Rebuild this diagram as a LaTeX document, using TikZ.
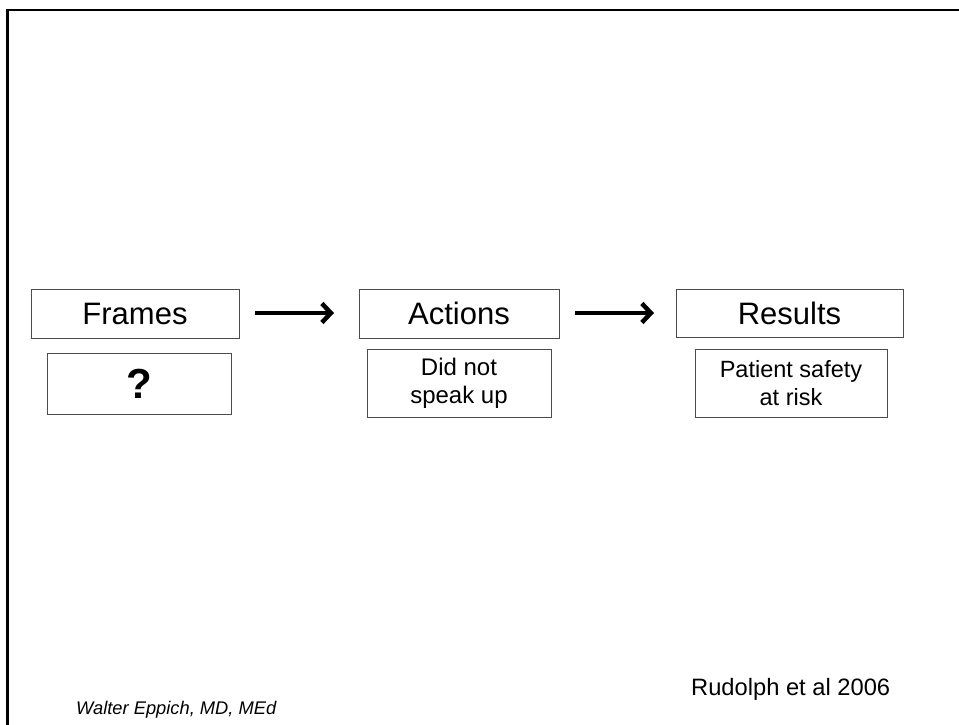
\documentclass[tikz,border=0pt]{standalone}
\usepackage{fontspec}
\setmainfont{Liberation Sans}
\usetikzlibrary{arrows.meta}
\begin{document}
\begin{tikzpicture}[x=1pt,y=-1pt,
  box/.style={draw=black!70,line width=1pt,fill=white,inner sep=0pt,align=center},
  flow/.style={line width=4.5pt,-{Straight Barb[length=9pt,width=19pt,line width=4.5pt]}}]
\useasboundingbox (0,0) rectangle (959,725);
\fill[white] (0,0) rectangle (959,725);
\draw[line width=2.2pt] (7.5,725) -- (7.5,10) -- (959,10);
% top boxes
\node[box,minimum width=208pt,minimum height=49pt,font=\fontsize{31}{36}\selectfont] (frames) at (135,313.5) {Frames};
\node[box,minimum width=200pt,minimum height=49pt,font=\fontsize{31}{36}\selectfont] (actions) at (459,313.5) {Actions};
\node[box,minimum width=227pt,minimum height=48pt,font=\fontsize{31}{36}\selectfont] (results) at (789.5,313) {Results};
% lower boxes
\node[box,minimum width=184pt,minimum height=61pt,font=\fontsize{42}{46}\selectfont\bfseries] (q) at (139,383.5) {?};
\node[box,minimum width=184pt,minimum height=68pt,font=\fontsize{24}{28}\selectfont] (did) at (459,383) {Did not\\speak up};
\node[box,minimum width=192pt,minimum height=68pt,font=\fontsize{23.5}{28}\selectfont] (pat) at (791,383) {Patient safety\\at risk};
% arrows
\coordinate (a1s) at (255,313);
\coordinate (a1e) at (334,313);
\coordinate (a2s) at (575,313);
\coordinate (a2e) at (654,313);
\draw[flow] (a1s) -- (a1e);
\draw[flow] (a2s) -- (a2e);
% footers
\node[anchor=base west,inner sep=0pt,font=\fontsize{23.7}{28}\selectfont] (ref) at (691,695) {Rudolph et al 2006};
\node[anchor=base west,inner sep=0pt,font=\fontsize{18.3}{22}\selectfont\itshape] (auth) at (76,714) {Walter Eppich, MD, MEd};
\end{tikzpicture}
\end{document}
